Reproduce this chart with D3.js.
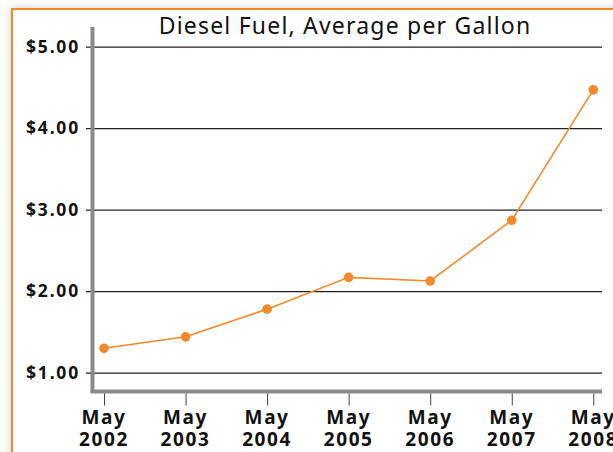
<!DOCTYPE html>
<html>
<head>
<meta charset="utf-8">
<script src="https://cdn.jsdelivr.net/npm/d3@7"></script>
<style>
  body { margin: 0; background: #fff; }
  svg { display: block; }
</style>
</head>
<body>
<script>
// values
var years = ["2002", "2003", "2004", "2005", "2006", "2007", "2008"];
var prices = [1.30, 1.44, 1.78, 2.17, 2.125, 2.87, 4.47];
var yTicks = [1, 2, 3, 4, 5];
var title = "Diesel Fuel, Average per Gallon";

var W = 613, H = 452;
var orange = "#f28a2c";

var svg = d3.select("body").append("svg")
  .attr("width", W)
  .attr("height", H);

// soft shadow + orange frame
var defs = svg.append("defs");
defs.append("filter").attr("id", "shade")
  .attr("x", "-10%").attr("y", "-10%").attr("width", "120%").attr("height", "120%")
  .append("feGaussianBlur").attr("stdDeviation", 4);

svg.append("rect")
  .attr("x", 10).attr("y", 7).attr("width", 640).attr("height", 480)
  .attr("fill", "#d8d8d8")
  .attr("filter", "url(#shade)");
svg.append("rect")
  .attr("x", 12).attr("y", 9).attr("width", 640).attr("height", 480)
  .attr("fill", "#fff")
  .attr("stroke", orange)
  .attr("stroke-width", 2);

// scales
var x = d3.scalePoint().domain(years).range([104, 593.3]);
var y = d3.scaleLinear().domain([1, 5]).range([372.7, 46.7]);

// title
svg.append("text")
  .attr("x", 345).attr("y", 34)
  .attr("text-anchor", "middle")
  .style("font-family", "'Noto Sans', sans-serif")
  .style("font-size", "23px")
  .style("letter-spacing", "1.2px")
  .attr("fill", "#111")
  .text(title);

// grid lines + y labels
var yAxis = svg.append("g")
  .attr("transform", "translate(86,0)")
  .call(d3.axisRight(y).tickValues(yTicks).tickSize(516).tickFormat(""));
yAxis.select(".domain").remove();
yAxis.selectAll(".tick line").attr("stroke", "#222").attr("stroke-width", 1.3);

svg.append("g").selectAll("text")
  .data(yTicks)
  .enter().append("text")
  .attr("x", 80)
  .attr("y", function(d) { return y(d) - 1; })
  .attr("text-anchor", "end")
  .attr("dominant-baseline", "central")
  .style("font-family", "'Noto Sans', sans-serif")
  .style("font-weight", "bold")
  .style("font-size", "17.5px")
  .style("letter-spacing", "1.8px")
  .attr("fill", "#111")
  .text(function(d) { return "$" + d3.format(".2f")(d); });

// axis bars
svg.append("rect")
  .attr("x", 90.5).attr("y", 27).attr("width", 4).attr("height", 366)
  .attr("fill", "#8a8a8a");
svg.append("rect")
  .attr("x", 90.5).attr("y", 389.5).attr("width", 511.5).attr("height", 4)
  .attr("fill", "#8a8a8a");

// x ticks + labels
var xAxis = svg.append("g")
  .attr("transform", "translate(0,393.5)")
  .call(d3.axisBottom(x).tickSize(12).tickFormat(""));
xAxis.select(".domain").remove();
xAxis.selectAll(".tick line").attr("stroke", "#444").attr("stroke-width", 1);

var xl = svg.append("g").selectAll("text")
  .data(years)
  .enter().append("text")
  .attr("x", function(d) { return x(d); })
  .attr("text-anchor", "middle")
  .style("font-family", "'Noto Sans', sans-serif")
  .style("font-weight", "bold")
  .style("font-size", "19px")
  .style("letter-spacing", "1.6px")
  .attr("fill", "#111");
xl.append("tspan").attr("x", function(d) { return x(d); }).attr("y", 424).text("May");
xl.append("tspan").attr("x", function(d) { return x(d); }).attr("y", 446).text(function(d) { return d; });

// price line
var line = d3.line()
  .x(function(d, i) { return x(years[i]); })
  .y(function(d) { return y(d); });

svg.append("path")
  .datum(prices)
  .attr("fill", "none")
  .attr("stroke", orange)
  .attr("stroke-width", 1.6)
  .attr("d", line);

svg.append("g").selectAll("circle")
  .data(prices)
  .enter().append("circle")
  .attr("cx", function(d, i) { return x(years[i]); })
  .attr("cy", function(d) { return y(d); })
  .attr("r", 4.8)
  .attr("fill", orange);
</script>
</body>
</html>
